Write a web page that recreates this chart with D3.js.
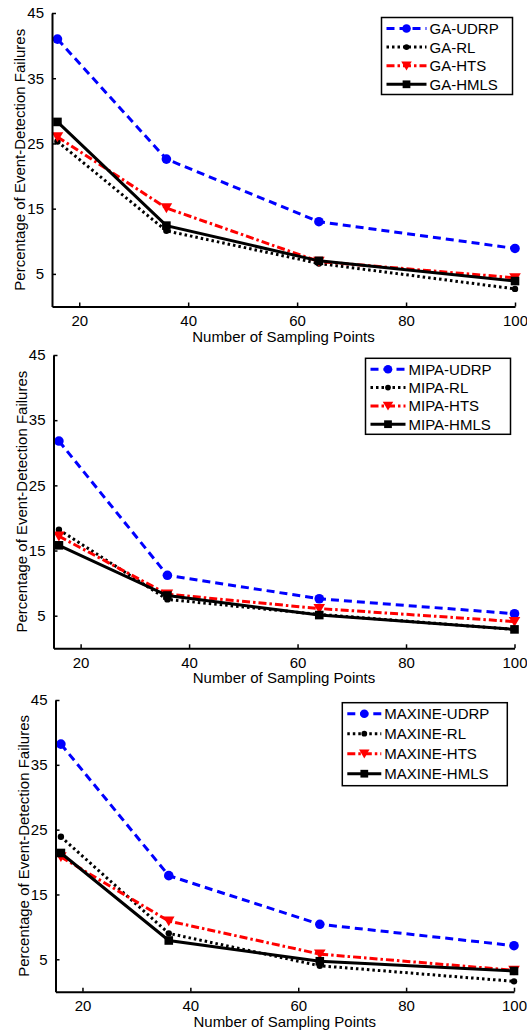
<!DOCTYPE html>
<html>
<head>
<meta charset="utf-8">
<script src="https://cdn.jsdelivr.net/npm/d3@7"></script>
<style>
  body { margin: 0; background: #fff; }
  svg text { font-family: "Liberation Sans", Arial, sans-serif; fill: #000; }
</style>
</head>
<body>
<div id="chart"></div>
<script>
// Data
const samplingPoints = [16, 36, 64, 100];
const xTicks = [20, 40, 60, 80, 100];
const yTicks = [5, 15, 25, 35, 45];
const methods = ["UDRP", "RL", "HTS", "HMLS"];
const algorithms = ["GA", "MIPA", "MAXINE"];

const gaUDRP = [41.0, 22.6, 13.0, 8.9];
const gaRL = [25.3, 11.6, 6.6, 2.7];
const gaHTS = [26.0, 15.1, 6.9, 4.4];
const gaHMLS = [28.3, 12.4, 7.0, 3.9];

const mipaUDRP = [31.8, 11.2, 7.6, 5.3];
const mipaRL = [18.2, 7.5, 5.2, 2.9];
const mipaHTS = [17.2, 8.3, 6.1, 4.1];
const mipaHMLS = [15.8, 8.1, 5.1, 2.9];

const maxineUDRP = [38.2, 17.9, 10.4, 7.1];
const maxineRL = [23.9, 9.0, 4.0, 1.6];
const maxineHTS = [20.8, 10.9, 5.8, 3.3];
const maxineHMLS = [21.4, 7.9, 4.7, 3.2];

const seriesByAlgorithm = {
    GA: [gaUDRP, gaRL, gaHTS, gaHMLS],
    MIPA: [mipaUDRP, mipaRL, mipaHTS, mipaHMLS],
    MAXINE: [maxineUDRP, maxineRL, maxineHTS, maxineHMLS]
};

// line styles per method
const styles = {
    UDRP: { color: "#0000ff", dash: "8,5", marker: "circle" },
    RL: { color: "#000000", dash: "2.5,3", marker: "dot" },
    HTS: { color: "#ff0000", dash: "8,3,2.5,3", marker: "triangle" },
    HMLS: { color: "#000000", dash: null, marker: "square" }
};

// panel layouts (pixels)
const panels = [
    { left: 52, right: 515, top: 13, bottom: 306.5,
      legend: { x: 381.5, y: 17.5, w: 131, h: 77, row: 18.6, line: 40 } },
    { left: 53.5, right: 514.5, top: 355, bottom: 648.3,
      legend: { x: 365.5, y: 358.3, w: 145, h: 76, row: 18.3, line: 35 } },
    { left: 55.5, right: 514, top: 700, bottom: 991.7,
      legend: { x: 342.3, y: 702.7, w: 165, h: 83, row: 20, line: 34 } }
];

const svg = d3.select("#chart")
    .append("svg")
    .attr("width", 527)
    .attr("height", 1032);

function drawMarker(g, type, x, y, color, scale = 1) {
    if (type === "circle") {
        g.append("circle").attr("cx", x).attr("cy", y).attr("r", 4.8 * scale)
            .attr("fill", color);
    } else if (type === "dot") {
        g.append("circle").attr("cx", x).attr("cy", y).attr("r", 3.2 * scale)
            .attr("fill", color);
    } else if (type === "triangle") {
        const s = 5.8 * scale;
        g.append("path")
            .attr("d", `M${x - s},${y - s * 0.8}L${x + s},${y - s * 0.8}L${x},${y + s * 0.9}Z`)
            .attr("fill", color);
    } else if (type === "square") {
        const h = 4.3 * scale;
        g.append("rect").attr("x", x - h).attr("y", y - h)
            .attr("width", 2 * h).attr("height", 2 * h).attr("fill", color);
    }
}

algorithms.forEach((alg, i) => {
    const p = panels[i];
    const g = svg.append("g");

    const x = d3.scaleLinear().domain([15, 100]).range([p.left, p.right]);
    const y = d3.scaleLinear().domain([0, 45]).range([p.bottom, p.top]);

    // series lines and markers
    const line = d3.line().x((d, k) => x(samplingPoints[k])).y(d => y(d));
    seriesByAlgorithm[alg].forEach((values, m) => {
        const st = styles[methods[m]];
        g.append("path")
            .datum(values)
            .attr("d", line)
            .attr("fill", "none")
            .attr("stroke", st.color)
            .attr("stroke-width", 3)
            .attr("stroke-dasharray", st.dash);
        values.forEach((v, k) => drawMarker(g, st.marker, x(samplingPoints[k]), y(v), st.color));
    });

    // axes with inward ticks
    const xAxis = g.append("g")
        .attr("transform", `translate(0,${p.bottom})`)
        .call(d3.axisBottom(x).tickValues(xTicks).tickSizeInner(-4).tickSizeOuter(0).tickPadding(9));
    const yAxis = g.append("g")
        .attr("transform", `translate(${p.left},0)`)
        .call(d3.axisLeft(y).tickValues(yTicks).tickSizeInner(-4).tickSizeOuter(0).tickPadding(8));
    [xAxis, yAxis].forEach(a => {
        a.select(".domain").attr("stroke", "#000").attr("stroke-width", 2);
        a.selectAll(".tick line").attr("stroke", "#000").attr("stroke-width", 1.5);
        a.selectAll(".tick text")
            .style("font-family", "'Liberation Sans', Arial, sans-serif")
            .style("font-size", "15px")
            .attr("fill", "#000");
    });

    // axis labels
    g.append("text")
        .attr("x", (p.left + p.right) / 2)
        .attr("y", p.bottom + 35)
        .attr("text-anchor", "middle")
        .style("font-size", "15px")
        .text("Number of Sampling Points");

    g.append("text")
        .attr("transform", `translate(${p.left - 27},${(p.top + p.bottom) / 2}) rotate(-90)`)
        .attr("text-anchor", "middle")
        .style("font-size", "15px")
        .text("Percentage of Event-Detection Failures");

    // legend
    const L = p.legend;
    const lg = g.append("g");
    lg.append("rect")
        .attr("x", L.x).attr("y", L.y)
        .attr("width", L.w).attr("height", L.h)
        .attr("fill", "#fff").attr("stroke", "#000").attr("stroke-width", 1.5);
    methods.forEach((name, m) => {
        const st = styles[name];
        const cy = L.y + 11 + m * L.row;
        const x0 = L.x + 5;
        lg.append("line")
            .attr("x1", x0).attr("x2", x0 + L.line)
            .attr("y1", cy).attr("y2", cy)
            .attr("stroke", st.color).attr("stroke-width", 3)
            .attr("stroke-dasharray", st.dash);
        drawMarker(lg, st.marker, x0 + L.line / 2, cy, st.color, 0.9);
        lg.append("text")
            .attr("x", x0 + L.line + 3)
            .attr("y", cy + 5.5)
            .style("font-size", "15px")
            .text(`${alg}-${name}`);
    });
});
</script>
</body>
</html>
